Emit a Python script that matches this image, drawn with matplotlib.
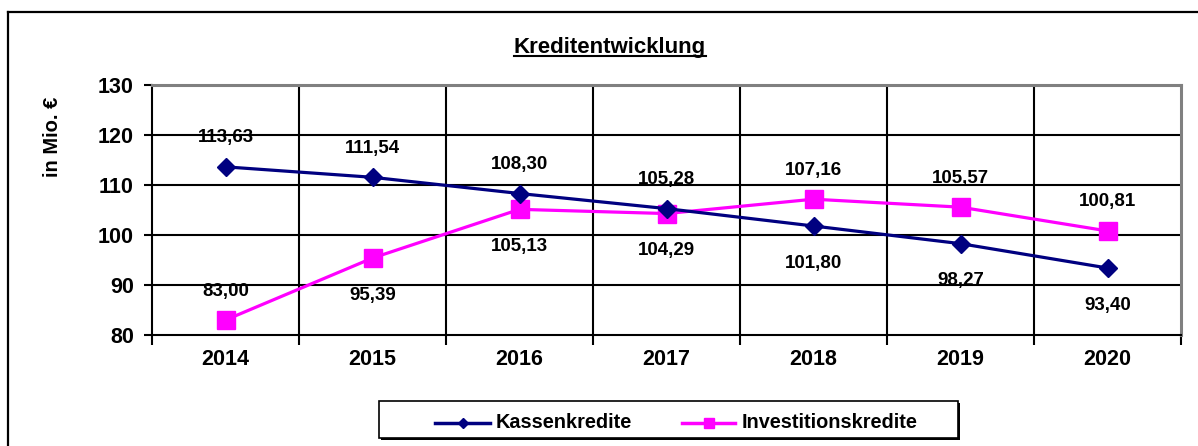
import matplotlib
matplotlib.use("Agg")
import matplotlib.pyplot as plt
from matplotlib.lines import Line2D
from matplotlib.patches import Rectangle

plt.rcParams['font.family'] = ['Liberation Sans', 'DejaVu Sans']
plt.rcParams['font.weight'] = 'bold'

years = ["2014", "2015", "2016", "2017", "2018", "2019", "2020"]
kassenkredite = [113.63, 111.54, 108.30, 105.28, 101.80, 98.27, 93.40]
investitionskredite = [83.00, 95.39, 105.13, 104.29, 107.16, 105.57, 100.81]
kassen_pos = ["above", "above", "above", "above", "below", "below", "below"]
invest_pos = ["above", "below", "below", "below", "above", "above", "above"]
series_names = ["Kassenkredite", "Investitionskredite"]
title = "Kreditentwicklung"
ylabel = "in Mio. €"
yticks = [80, 90, 100, 110, 120, 130]

W, H = 1198, 446
fig = plt.figure(figsize=(W / 100, H / 100), dpi=100)

def fx(px):
    return px / W

def fy(py):
    return 1 - py / H

# outer frame (left and top visible)
fig.add_artist(Line2D([fx(8), fx(8)], [fy(12), fy(H + 5)], color='black', lw=1.6))
fig.add_artist(Line2D([fx(8), fx(W + 5)], [fy(12), fy(12)], color='black', lw=1.6))

left, right, top, bottom = 152, 1181, 85, 335
ax = fig.add_axes([fx(left), fy(bottom), fx(right - left), (bottom - top) / H])

x = list(range(len(years)))
navy = '#000080'
magenta = '#FF00FF'

ax.plot(x, kassenkredite, color=navy, lw=2.3, marker='D', ms=9.5,
        mfc=navy, mec=navy, zorder=4, clip_on=False)
ax.plot(x, investitionskredite, color=magenta, lw=2.3, marker='s', ms=13,
        mfc=magenta, mec=magenta, zorder=3, clip_on=False)

def fmt(v):
    return f"{v:.2f}".replace('.', ',')

up_off = 29 * 0.72
down_off = 37 * 0.72
for series, positions in ((kassenkredite, kassen_pos), (investitionskredite, invest_pos)):
    for xi, v, p in zip(x, series, positions):
        ax.annotate(fmt(v), (xi, v), xytext=(0, up_off if p == "above" else -down_off),
                    textcoords='offset points', ha='center', va='center',
                    fontsize=13.5, fontweight='bold', zorder=6, annotation_clip=False)

ax.set_xlim(-0.5, len(years) - 0.5)
ax.set_ylim(80, 130)
ax.set_yticks(yticks)
ax.set_yticklabels([str(t) for t in yticks], fontsize=15.5, fontweight='bold')
ax.set_xticks(x)
ax.set_xticklabels(years, fontsize=15.5, fontweight='bold')
ax.set_xticks([i - 0.5 for i in range(len(years) + 1)], minor=True)
ax.tick_params(axis='x', which='major', length=0, pad=10)
ax.tick_params(axis='x', which='minor', length=7, width=1.5, direction='out', color='black')
ax.tick_params(axis='y', which='major', length=6, width=1.5, direction='out', pad=7, color='black')

for yv in yticks[1:-1]:
    ax.axhline(yv, color='black', lw=1.5, zorder=1)
for xv in [i + 0.5 for i in range(len(years) - 1)]:
    ax.axvline(xv, color='black', lw=1.5, zorder=1)

ax.spines['left'].set_color('black')
ax.spines['left'].set_linewidth(1.5)
ax.spines['bottom'].set_color('black')
ax.spines['bottom'].set_linewidth(1.5)
ax.spines['top'].set_color('#808080')
ax.spines['top'].set_linewidth(2.2)
ax.spines['right'].set_color('#808080')
ax.spines['right'].set_linewidth(2.2)

# y label
fig.text(fx(53), fy(137), ylabel, rotation=90, ha='center', va='center',
         fontsize=14.5, fontweight='bold')

# title with underline
t = fig.text(fx(610), fy(48), title, ha='center', va='center', fontsize=16, fontweight='bold')
fig.canvas.draw()
bb = t.get_window_extent(renderer=fig.canvas.get_renderer())
uy = bb.y0 + 3
fig.add_artist(Line2D([bb.x0 / W, bb.x1 / W], [uy / H, uy / H], color='black', lw=1.5))

# legend box with shadow
lx0, ly0, lx1, ly1 = 379, 401, 958, 438
fig.add_artist(Rectangle((fx(lx0 + 2), fy(ly1 + 2)), fx(lx1 - lx0), (ly1 - ly0) / H,
                         facecolor='black', edgecolor='none', zorder=1))
fig.add_artist(Rectangle((fx(lx0), fy(ly1)), fx(lx1 - lx0), (ly1 - ly0) / H,
                         facecolor='white', edgecolor='black', lw=1.2, zorder=2))
ly = fy(423)
fig.add_artist(Line2D([fx(435), fx(490)], [ly, ly], color=navy, lw=2.5, zorder=3))
fig.add_artist(Line2D([fx(462.5)], [ly], color=navy, marker='D', ms=5.5, lw=0, zorder=4))
fig.add_artist(Line2D([fx(682), fx(735)], [ly, ly], color=magenta, lw=2.5, zorder=3))
fig.add_artist(Line2D([fx(708.5)], [ly], color=magenta, marker='s', ms=7, lw=0, zorder=4))
fig.text(fx(496), ly, series_names[0], ha='left', va='center', fontsize=14.3,
         fontweight='bold', zorder=5)
fig.text(fx(742), ly, series_names[1], ha='left', va='center', fontsize=14.3,
         fontweight='bold', zorder=5)

fig.savefig("out.png", dpi=100)
